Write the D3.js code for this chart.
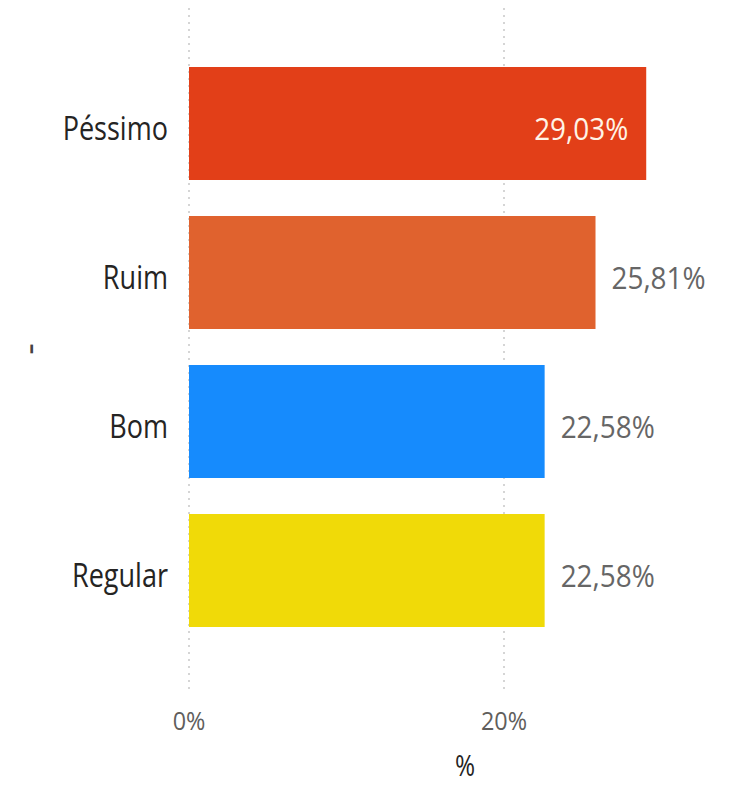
<!DOCTYPE html>
<html><head><meta charset="utf-8">
<script src="https://cdn.jsdelivr.net/npm/d3@7"></script>
<style>body{margin:0;background:#fff}svg{display:block}</style>
</head><body>
<script>
const categories = ["Péssimo","Ruim","Bom","Regular"];
const values = [29.03, 25.81, 22.58, 22.58];
const labels = ["29,03%","25,81%","22,58%","22,58%"];
const colors = ["#E23F18","#E0622E","#168BFD","#F0DA08"];
const ticks = [0, 20];
const tickLabels = ["0%","20%"];

const W=740,H=785;
const svg=d3.select("body").append("svg").attr("width",W).attr("height",H);
const font="'Open Sans', sans-serif";
const x=d3.scaleLinear().domain([0,20]).range([189,504]);
const y=d3.scaleBand().domain(categories).range([49,645]).paddingInner(36/149).paddingOuter(18/149);

svg.append("g").selectAll("line").data(ticks).join("line")
  .attr("x1",d=>x(d)).attr("x2",d=>x(d)).attr("y1",8).attr("y2",690)
  .attr("stroke","#c8c8c8").attr("stroke-width",1.5).attr("stroke-dasharray","2,5");

svg.append("g").selectAll("rect").data(categories).join("rect")
  .attr("x",x(0)).attr("y",d=>y(d)).attr("width",(d,i)=>x(values[i])-x(0))
  .attr("height",y.bandwidth()).attr("fill",(d,i)=>colors[i]);

function condText(g,tx,ty,txt,size,fill,anchor,sx){
  g.append("text").attr("transform",`translate(${tx},${ty}) scale(${sx||0.9},1)`)
   .attr("text-anchor",anchor).attr("dominant-baseline","central")
   .attr("font-family",font).attr("font-size",size).attr("fill",fill).text(txt);
}
const gl=svg.append("g");
categories.forEach((c,i)=>{
  const cy=y(c)+y.bandwidth()/2+4;
  condText(gl,168,cy,c,33,"#252423","end",0.82);
  const inside = i===0;
  if(inside) condText(gl,x(values[i])-18,cy,labels[i],31,"#fff3e6","end");
  else condText(gl,x(values[i])+16,cy,labels[i],31,"#666666","start");
});
ticks.forEach((t,i)=>condText(gl,x(t),720,tickLabels[i],26,"#605E5C","middle"));
gl.append("text").attr("transform","translate(465,776) scale(0.9,1.1)")
  .attr("text-anchor","middle")
  .attr("font-family",font).attr("font-size",27).attr("fill","#252423").text("%");
gl.append("text").attr("transform","translate(28,349) rotate(-90)")
  .attr("text-anchor","middle").attr("dominant-baseline","central")
  .attr("font-family",font).attr("font-size",36).attr("fill","#444").text("-");
</script>
</body></html>
